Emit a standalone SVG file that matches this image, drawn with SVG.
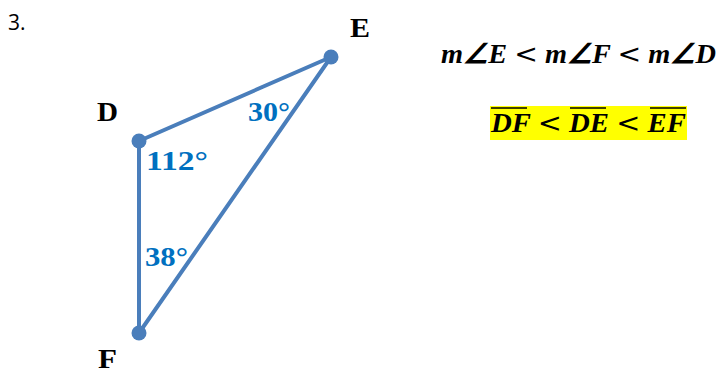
<svg xmlns="http://www.w3.org/2000/svg" width="717" height="376" viewBox="0 0 717 376">
<style>
.edge{stroke:#4a7ebb;stroke-width:4;fill:none;stroke-linecap:round}
.pt{fill:#4a7ebb}
.vl{font-family:"Liberation Serif","Times New Roman",serif;font-weight:bold;font-size:27px;fill:#000}
.ang{font-family:"Liberation Serif","Times New Roman",serif;font-weight:bold;font-size:28px;fill:#0070c0}
.math{font-family:"Liberation Serif","Times New Roman",serif;font-weight:bold;font-style:italic;font-size:27px;fill:#000}
.lt{font-family:"DejaVu Sans",sans-serif;font-style:normal;font-weight:normal}
</style>
<rect width="717" height="376" fill="#fff"/>
<text x="8" y="30" font-family="'Open Sans', sans-serif" font-size="21">3.</text>
<g id="connectors">
<line class="edge" x1="139" y1="141" x2="331" y2="57"/>
<line class="edge" x1="139" y1="141" x2="139" y2="333"/>
<line class="edge" x1="139" y1="333" x2="331" y2="57"/>
</g>
<g id="D"><circle class="pt" cx="139" cy="141" r="7.5"/><text class="vl" x="97" y="121" textLength="21" lengthAdjust="spacingAndGlyphs">D</text><text class="ang" x="146" y="170" textLength="62" lengthAdjust="spacingAndGlyphs">112°</text></g>
<g id="E"><circle class="pt" cx="331" cy="57" r="7.5"/><text class="vl" x="350" y="37" textLength="20" lengthAdjust="spacingAndGlyphs">E</text><text class="ang" x="248" y="121" textLength="42" lengthAdjust="spacingAndGlyphs">30°</text></g>
<g id="F"><circle class="pt" cx="139" cy="333" r="7.5"/><text class="vl" x="98" y="368" textLength="19" lengthAdjust="spacingAndGlyphs">F</text><text class="ang" x="145" y="266" textLength="43" lengthAdjust="spacingAndGlyphs">38°</text></g>
<text class="math" x="441" y="63" textLength="275" lengthAdjust="spacingAndGlyphs">m∠E <tspan class="lt">&lt;</tspan> m∠F <tspan class="lt">&lt;</tspan> m∠D</text>
<rect x="490" y="106" width="197" height="34" fill="#ffff00"/>
<text class="math" x="491" y="132" textLength="195" lengthAdjust="spacingAndGlyphs">DF <tspan class="lt">&lt;</tspan> DE <tspan class="lt">&lt;</tspan> EF</text>
<g stroke="#000" stroke-width="1.5">
<line x1="491" y1="108" x2="527" y2="108"/>
<line x1="570" y1="108" x2="606" y2="108"/>
<line x1="650" y1="108" x2="686" y2="108"/>
</g>
</svg>
